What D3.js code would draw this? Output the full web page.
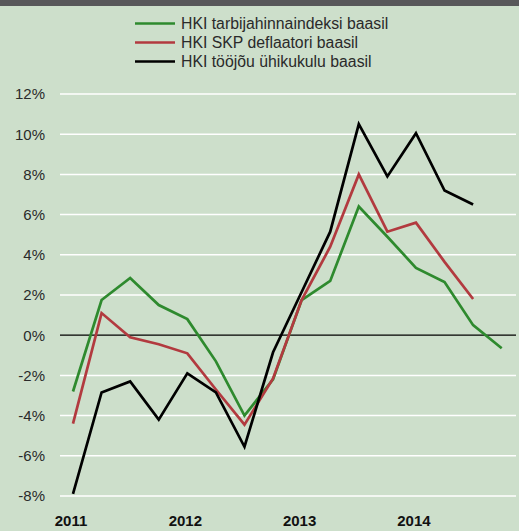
<!DOCTYPE html>
<html>
<head>
<meta charset="utf-8">
<script src="https://cdn.jsdelivr.net/npm/d3@7"></script>
<style>
  body { margin: 0; background: #cddfcb; }
  svg { display: block; font-family: "Liberation Sans", Arial, sans-serif; }
</style>
</head>
<body>
<script>
var quarters = ['2011Q1', '2011Q2', '2011Q3', '2011Q4', '2012Q1', '2012Q2', '2012Q3', '2012Q4',
  '2013Q1', '2013Q2', '2013Q3', '2013Q4', '2014Q1', '2014Q2', '2014Q3', '2014Q4']
var yearLabels = ['2011', '2012', '2013', '2014']
var yTicks = [-8, -6, -4, -2, 0, 2, 4, 6, 8, 10, 12]

var tarbija = [-2.8, 1.75, 2.85, 1.5, 0.8, -1.3, -4.0, -2.2, 1.75, 2.7, 6.4, 4.9, 3.35, 2.65, 0.5, -0.65]
var skp = [-4.4, 1.1, -0.1, -0.45, -0.9, -2.7, -4.45, -2.15, 1.75, 4.4, 8.0, 5.15, 5.6, 3.65, 1.8, null]
var toojou = [-7.9, -2.85, -2.3, -4.2, -1.9, -2.85, -5.55, -0.85, 2.15, 5.15, 10.5, 7.9, 10.05, 7.2, 6.5, null]

var seriesNames = ['HKI tarbijahinnaindeksi baasil', 'HKI SKP deflaatori baasil', 'HKI tööjõu ühikukulu baasil']
var seriesColors = ['#2e8a2e', '#b23a3f', '#000000']

var width = 519
var height = 531

var svg = d3.select('body').append('svg')
  .attr('width', width)
  .attr('height', height)

svg.append('rect')
  .attr('width', width).attr('height', height)
  .attr('fill', '#cddfcb')

// dark band at the very top
svg.append('rect')
  .attr('width', width).attr('height', 6)
  .attr('fill', '#58585a')

var x = d3.scaleLinear().domain([0, quarters.length - 1]).range([73, 501.7])
var y = d3.scaleLinear().domain([-8, 12]).range([496, 94])

// grid
svg.append('g')
  .selectAll('line')
  .data(yTicks)
  .enter()
  .append('line')
  .attr('x1', 60).attr('x2', 516)
  .attr('y1', function(d) { return y(d) })
  .attr('y2', function(d) { return y(d) })
  .attr('stroke', function(d) { return d === 0 ? '#000' : '#fff' })
  .attr('stroke-width', function(d) { return d === 0 ? 1.2 : 1.5 })

// y labels
svg.append('g')
  .selectAll('text')
  .data(yTicks)
  .enter()
  .append('text')
  .attr('x', 45)
  .attr('y', function(d) { return y(d) })
  .attr('dy', '0.36em')
  .attr('text-anchor', 'end')
  .attr('font-size', 15)
  .attr('fill', '#2a2a2a')
  .text(function(d) { return d + '%' })

// year labels under the first quarter of each year
svg.append('g')
  .selectAll('text')
  .data(yearLabels)
  .enter()
  .append('text')
  .attr('x', function(d) { return x(quarters.indexOf(d + 'Q1')) - 2 })
  .attr('y', 526)
  .attr('text-anchor', 'middle')
  .attr('font-size', 15)
  .attr('font-weight', 'bold')
  .attr('fill', '#111')
  .text(function(d) { return d })

var line = d3.line()
  .defined(function(d) { return d != null })
  .x(function(d, i) { return x(i) })
  .y(function(d) { return y(d) })

var allSeries = [tarbija, skp, toojou]

svg.append('g')
  .selectAll('path')
  .data(allSeries)
  .enter()
  .append('path')
  .attr('d', line)
  .attr('fill', 'none')
  .attr('stroke', function(d, i) { return seriesColors[i] })
  .attr('stroke-width', 2.7)
  .attr('stroke-linejoin', 'miter')

// legend
var legend = svg.append('g')
  .selectAll('g')
  .data(seriesNames)
  .enter()
  .append('g')
  .attr('transform', function(d, i) { return 'translate(0,' + (23.5 + i * 19) + ')' })

legend.append('line')
  .attr('x1', 135).attr('x2', 175)
  .attr('stroke', function(d, i) { return seriesColors[i] })
  .attr('stroke-width', 2.7)

legend.append('text')
  .attr('x', 181)
  .attr('dy', '0.36em')
  .attr('font-size', 15.8)
  .attr('fill', '#2a2a2a')
  .text(function(d) { return d })
</script>
</body>
</html>
